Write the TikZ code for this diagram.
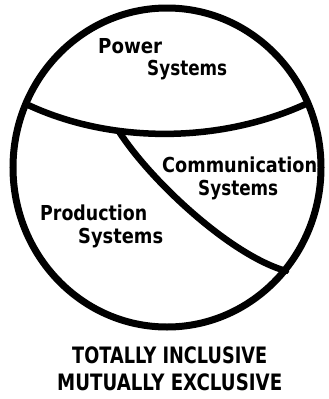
\documentclass[tikz,border=0pt]{standalone}
\usepackage{fontspec}
\setmainfont{DejaVu Sans}
\newcommand{\fitw}[2]{\resizebox{#1}{\height}{#2}}
\tikzset{
  rim/.style={line width=7pt, black},
  divider/.style={line width=6.5pt, black, line cap=round},
  lbl/.style={anchor=base west, inner sep=0pt, font=\fontsize{20.6}{22}\selectfont\bfseries},
  caption/.style={anchor=base west, inner sep=0pt, font=\fontsize{22.6}{24}\selectfont\bfseries}
}
\begin{document}
\begin{tikzpicture}[x=1pt,y=-1pt]
\useasboundingbox (0,0) rectangle (329,399);
\coordinate (C) at (167,167.5);
\draw[rim] (C) ellipse [x radius=154, y radius=159.5];
\coordinate (L) at (26,104);
\coordinate (R) at (308,103);
\coordinate (J) at (119,131.5);
\coordinate (E) at (286,271);
\draw[divider] (L) .. controls (110,144) and (220,144) .. (R);
\draw[divider] (J) .. controls (150,180) and (230,255) .. (E);
\node[lbl] (pw) at (98,53) {\fitw{64pt}{Power}};
\node[lbl] (ps) at (147,75) {\fitw{80pt}{Systems}};
\node[lbl] (cm) at (162,172) {\fitw{155pt}{Communication}};
\node[lbl] (cs) at (198,195) {\fitw{80pt}{Systems}};
\node[lbl] (pr) at (40,220) {\fitw{107pt}{Production}};
\node[lbl] (prs) at (78,243) {\fitw{85pt}{Systems}};
\node[caption] (t1) at (72,363) {\fitw{195pt}{TOTALLY INCLUSIVE}};
\node[caption] (t2) at (57,390) {\fitw{225pt}{MUTUALLY EXCLUSIVE}};
\end{tikzpicture}
\end{document}
